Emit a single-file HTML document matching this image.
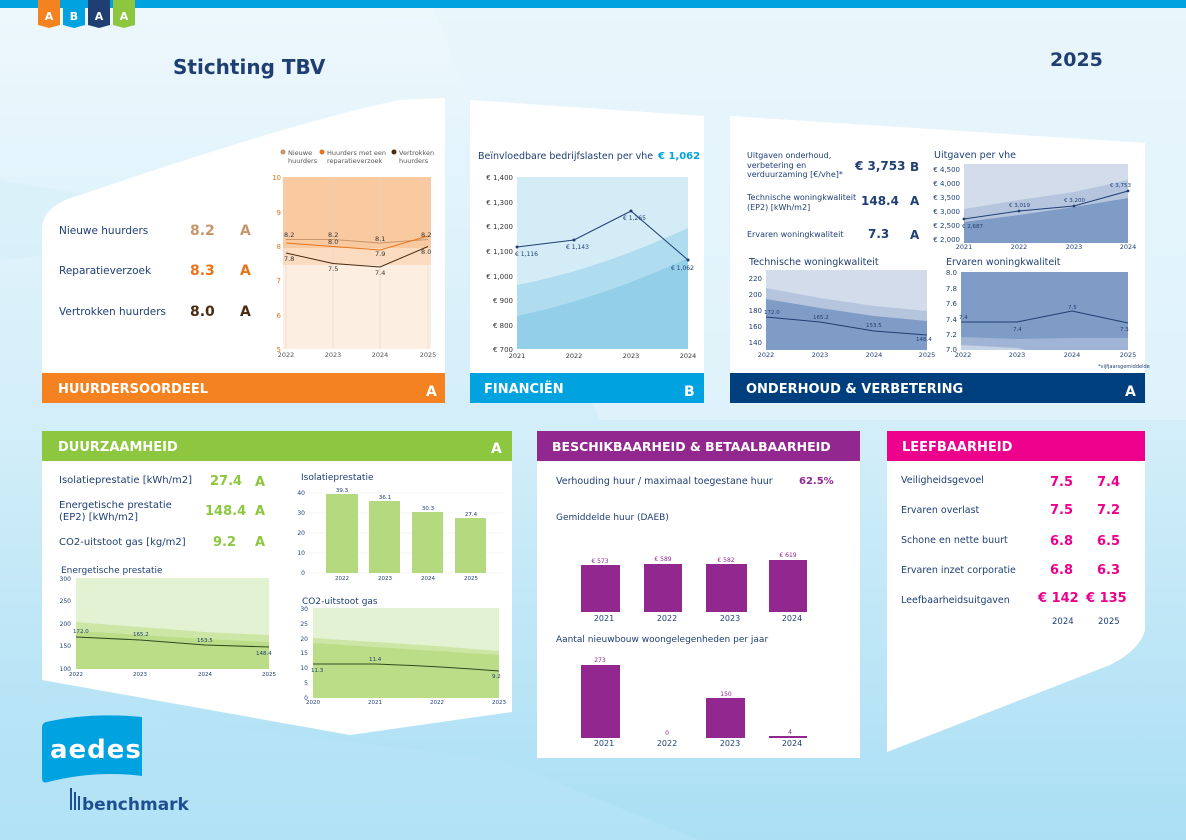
<!DOCTYPE html>
<html><head><meta charset="utf-8"><style>
html,body{margin:0;padding:0;width:1186px;height:840px;overflow:hidden}
svg{display:block}
text{font-family:"DejaVu Sans","Liberation Sans",sans-serif}
.b{font-weight:bold}
</style></head><body>
<svg width="1186" height="840" viewBox="0 0 1186 840" xmlns="http://www.w3.org/2000/svg">
<defs>
<linearGradient id="bg" x1="0" y1="0" x2="0" y2="1">
<stop offset="0" stop-color="#eef8fd"/><stop offset="0.5" stop-color="#d3eef9"/><stop offset="1" stop-color="#aadff4"/>
</linearGradient>
</defs>
<rect width="1186" height="840" fill="url(#bg)"/>
<polygon points="430,0 1186,0 1186,420 600,420" fill="#e6f5fc" opacity="0.6"/>
<polygon points="0,700 500,760 700,840 0,840" fill="#b8e4f6" opacity="0.6"/>
<polygon points="0,180 300,230 0,260" fill="#d7eff9" opacity="0.7"/>
<rect x="0" y="0" width="1186" height="8" fill="#00a3e0"/>
<g font-size="11" font-weight="bold" fill="#fff" text-anchor="middle">
<path d="M38,0h22v25l-11,3l-11,-3z" fill="#f58220"/><text x="49" y="20">A</text>
<path d="M63,0h22v25l-11,3l-11,-3z" fill="#00a3e0"/><text x="74" y="20">B</text>
<path d="M88,0h22v25l-11,3l-11,-3z" fill="#1f3f73"/><text x="99" y="20">A</text>
<path d="M113,0h22v25l-11,3l-11,-3z" fill="#8dc63f"/><text x="124" y="20">A</text>
</g>
<text x="173" y="74" font-size="20" class="b" fill="#1f3f73">Stichting TBV</text>
<text x="1050" y="66" font-size="19" class="b" fill="#1f3f73">2025</text>

<!-- Panel 1 -->
<path d="M42,403 V230 Q42,205 80,195 Q300,120 400,100 L445,98 V403 Z" fill="#fff"/>
<rect x="42" y="373" width="403" height="30" fill="#f58220"/>
<text x="58" y="393" font-size="13" class="b" fill="#fff">HUURDERSOORDEEL</text>
<text x="426" y="396" font-size="14" class="b" fill="#fff">A</text>
<g font-size="10.5" fill="#1f3f73">
<text x="59" y="234">Nieuwe huurders</text>
<text x="59" y="274">Reparatieverzoek</text>
<text x="59" y="315">Vertrokken huurders</text>
</g>
<g font-size="14" class="b">
<text x="190" y="235" fill="#c8956a">8.2</text><text x="240" y="235" fill="#c8956a">A</text>
<text x="190" y="275" fill="#e8731a">8.3</text><text x="240" y="275" fill="#e8731a">A</text>
<text x="190" y="316" fill="#4a2a10">8.0</text><text x="240" y="316" fill="#4a2a10">A</text>
</g>
<rect x="283" y="177" width="148" height="172" fill="#fdeee2"/>
<rect x="283" y="177" width="148" height="88" fill="#fbdcc0"/>
<rect x="283" y="177" width="148" height="71" fill="#f9c9a0"/>
<g stroke="#e9d6c8" stroke-width="0.6"><line x1="286" y1="177" x2="286" y2="349"/><line x1="333" y1="177" x2="333" y2="349"/><line x1="380" y1="177" x2="380" y2="349"/><line x1="428" y1="177" x2="428" y2="349"/></g>
<g font-size="7" fill="#e8731a" text-anchor="end"><text x="281" y="180">10</text><text x="281" y="215">9</text><text x="281" y="249">8</text><text x="281" y="283">7</text><text x="281" y="318">6</text><text x="281" y="352">5</text></g>
<g font-size="6.5" fill="#555" text-anchor="middle"><text x="286" y="357">2022</text><text x="333" y="357">2023</text><text x="380" y="357">2024</text><text x="428" y="357">2025</text></g>
<polyline points="286,239.5 333,239.5 380,243 428,239.5" fill="none" stroke="#c8956a" stroke-width="1"/>
<polyline points="286,243 333,246.5 380,250 428,236" fill="none" stroke="#e8731a" stroke-width="1"/>
<polyline points="286,253 333,263.5 380,267 428,246.5" fill="none" stroke="#4a2a10" stroke-width="1"/>
<g font-size="6.5" fill="#333">
<text x="284" y="237">8.2</text><text x="328" y="237">8.2</text><text x="375" y="241">8.1</text><text x="421" y="237">8.2</text>
<text x="328" y="244">8.0</text><text x="375" y="256">7.9</text><text x="421" y="254">8.0</text>
<text x="284" y="261">7.8</text><text x="328" y="271">7.5</text><text x="375" y="275">7.4</text>
</g>
<g font-size="6.5" fill="#555">
<circle cx="283" cy="152" r="2.5" fill="#c8956a"/><text x="288" y="155">Nieuwe</text><text x="288" y="163">huurders</text>
<circle cx="322" cy="152" r="2.5" fill="#e8731a"/><text x="327" y="155">Huurders met een</text><text x="327" y="163">reparatieverzoek</text>
<circle cx="394" cy="152" r="2.5" fill="#4a2a10"/><text x="399" y="155">Vertrokken</text><text x="399" y="163">huurders</text>
</g>

<!-- Panel 2 -->
<polygon points="470,100 704,116 704,403 470,403" fill="#fff"/>
<rect x="470" y="373" width="234" height="30" fill="#00a3e0"/>
<text x="484" y="393" font-size="13" class="b" fill="#fff">FINANCIËN</text>
<text x="684" y="396" font-size="14" class="b" fill="#fff">B</text>
<text x="478" y="159" font-size="9.5" fill="#1f3f73">Beïnvloedbare bedrijfslasten per vhe</text>
<text x="658" y="159" font-size="10" class="b" fill="#00a3e0">€ 1,062</text>
<rect x="517" y="177" width="171" height="172" fill="#d3ecf6"/>
<path d="M517,285 C570,275 630,255 688,228 V349 H517Z" fill="#b0dcef"/>
<path d="M517,316 C570,305 630,285 688,258 V349 H517Z" fill="#94cfe9"/>
<g font-size="7" fill="#333" text-anchor="end"><text x="513" y="180">€ 1,400</text><text x="513" y="205">€ 1,300</text><text x="513" y="229">€ 1,200</text><text x="513" y="254">€ 1,100</text><text x="513" y="279">€ 1,000</text><text x="513" y="303">€ 900</text><text x="513" y="328">€ 800</text><text x="513" y="352">€ 700</text></g>
<g font-size="6.5" fill="#333" text-anchor="middle"><text x="517" y="358">2021</text><text x="574" y="358">2022</text><text x="631" y="358">2023</text><text x="688" y="358">2024</text></g>
<polyline points="517,247 574,240 631,211 688,260" fill="none" stroke="#1f3f73" stroke-width="1"/>
<g fill="#1f3f73"><circle cx="517" cy="247" r="1.5"/><circle cx="574" cy="240" r="1.5"/><circle cx="631" cy="211" r="1.5"/><circle cx="688" cy="260" r="1.5"/></g>
<g font-size="6" fill="#1f3f73"><text x="515" y="256">€ 1,116</text><text x="566" y="249">€ 1,143</text><text x="623" y="220">€ 1,265</text><text x="671" y="270">€ 1,062</text></g>

<!-- Panel 3 -->
<polygon points="730,116 1145,143 1145,403 730,403" fill="#fff"/>
<rect x="730" y="373" width="415" height="30" fill="#003f7d"/>
<text x="746" y="393" font-size="13" class="b" fill="#fff">ONDERHOUD &amp; VERBETERING</text>
<text x="1125" y="396" font-size="14" class="b" fill="#fff">A</text>
<g font-size="8" fill="#1f3f73">
<text x="747" y="158">Uitgaven onderhoud,</text><text x="747" y="168">verbetering en</text><text x="747" y="177">verduurzaming [€/vhe]*</text>
<text x="747" y="200">Technische woningkwaliteit</text><text x="747" y="210">(EP2) [kWh/m2]</text>
<text x="747" y="237">Ervaren woningkwaliteit</text>
</g>
<g font-size="12" class="b" fill="#1f3f73">
<text x="855" y="170">€ 3,753</text><text x="910" y="171">B</text>
<text x="861" y="205">148.4</text><text x="910" y="205">A</text>
<text x="868" y="238">7.3</text><text x="910" y="239">A</text>
</g>
<text x="934" y="158" font-size="9.5" fill="#1f3f73">Uitgaven per vhe</text>
<rect x="964" y="164" width="164" height="79" fill="#d3dcea"/>
<path d="M964,209 L1019,200 L1074,192 L1128,180 V243 H964Z" fill="#b5c5de"/>
<path d="M964,222 L1019,215 L1074,207 L1128,198 V243 H964Z" fill="#7f9cc6"/>
<g font-size="7" fill="#1f3f73" text-anchor="end"><text x="960" y="172">€ 4,500</text><text x="960" y="186">€ 4,000</text><text x="960" y="200">€ 3,500</text><text x="960" y="214">€ 3,000</text><text x="960" y="228">€ 2,500</text><text x="960" y="242">€ 2,000</text></g>
<g font-size="6.5" fill="#1f3f73" text-anchor="middle"><text x="964" y="249">2021</text><text x="1019" y="249">2022</text><text x="1074" y="249">2023</text><text x="1128" y="249">2024</text></g>
<polyline points="964,219 1019,211 1074,206 1128,191" fill="none" stroke="#1f3f73" stroke-width="1"/>
<g fill="#1f3f73"><circle cx="964" cy="219" r="1.4"/><circle cx="1019" cy="211" r="1.4"/><circle cx="1074" cy="206" r="1.4"/><circle cx="1128" cy="191" r="1.4"/></g>
<g font-size="5.5" fill="#1f3f73"><text x="962" y="228">€ 2,687</text><text x="1009" y="207">€ 3,019</text><text x="1064" y="202">€ 3,200</text><text x="1110" y="187">€ 3,753</text></g>

<text x="749" y="265" font-size="9.5" fill="#1f3f73">Technische woningkwaliteit</text>
<rect x="766" y="270" width="161" height="80" fill="#d3dcea"/>
<path d="M766,288 L820,298 L874,306 L927,311 V350 H766Z" fill="#b5c5de"/>
<path d="M766,299 L820,308 L874,316 L927,321 V350 H766Z" fill="#7f9cc6"/>
<g font-size="7" fill="#1f3f73" text-anchor="end"><text x="762" y="281">220</text><text x="762" y="297">200</text><text x="762" y="313">180</text><text x="762" y="329">160</text><text x="762" y="345">140</text></g>
<g font-size="6.5" fill="#1f3f73" text-anchor="middle"><text x="766" y="357">2022</text><text x="820" y="357">2023</text><text x="874" y="357">2024</text><text x="927" y="357">2025</text></g>
<polyline points="766,317 820,322 874,331 927,335" fill="none" stroke="#1f3f73" stroke-width="1"/>
<g font-size="5.5" fill="#1f3f73"><text x="764" y="314">172.0</text><text x="813" y="319">165.2</text><text x="866" y="327">153.5</text><text x="916" y="341">148.4</text></g>

<text x="946" y="265" font-size="9.5" fill="#1f3f73">Ervaren woningkwaliteit</text>
<rect x="961" y="272" width="167" height="78" fill="#7f9cc6"/>
<path d="M961,337 L1017,339 L1072,338 L1128,338 V350 H961Z" fill="#a0b5d5"/>
<path d="M961,345 L1017,348 L1025,350 H961Z" fill="#c6d2e6"/>
<g font-size="7" fill="#1f3f73" text-anchor="end"><text x="957" y="275">8.0</text><text x="957" y="291">7.8</text><text x="957" y="306">7.6</text><text x="957" y="322">7.4</text><text x="957" y="337">7.2</text><text x="957" y="352">7.0</text></g>
<g font-size="6.5" fill="#1f3f73" text-anchor="middle"><text x="963" y="357">2022</text><text x="1017" y="357">2023</text><text x="1072" y="357">2024</text><text x="1128" y="357">2025</text></g>
<polyline points="961,322 1017,322 1072,311 1128,323" fill="none" stroke="#1f3f73" stroke-width="1"/>
<g font-size="5.5" fill="#1f3f73"><text x="959" y="319">7.4</text><text x="1013" y="331">7.4</text><text x="1068" y="309">7.5</text><text x="1120" y="331">7.3</text></g>
<text x="1098" y="368" font-size="5" fill="#1f3f73">*vijfjaarsgemiddelde</text>

<!-- Panel 4 -->
<polygon points="42,460 512,460 512,712 350,735 42,680" fill="#fff"/>
<rect x="42" y="431" width="470" height="30" fill="#8dc63f"/>
<text x="58" y="451" font-size="13" class="b" fill="#fff">DUURZAAMHEID</text>
<text x="491" y="453" font-size="14" class="b" fill="#fff">A</text>
<g font-size="10" fill="#1f3f73">
<text x="59" y="483">Isolatieprestatie [kWh/m2]</text>
<text x="59" y="508">Energetische prestatie</text><text x="59" y="520">(EP2) [kWh/m2]</text>
<text x="59" y="545">CO2-uitstoot gas [kg/m2]</text>
</g>
<g font-size="13" class="b" fill="#8dc63f">
<text x="210" y="485">27.4</text><text x="255" y="486">A</text>
<text x="205" y="515">148.4</text><text x="255" y="515">A</text>
<text x="213" y="546">9.2</text><text x="255" y="546">A</text>
</g>
<text x="301" y="480" font-size="9" fill="#1f3f73">Isolatieprestatie</text>
<g stroke="#eee" stroke-width="0.6"><line x1="306" y1="493" x2="504" y2="493"/><line x1="306" y1="513" x2="504" y2="513"/><line x1="306" y1="533" x2="504" y2="533"/><line x1="306" y1="553" x2="504" y2="553"/><line x1="306" y1="573" x2="504" y2="573"/></g>
<g font-size="6" fill="#1f3f73" text-anchor="end"><text x="305" y="495">40</text><text x="305" y="515">30</text><text x="305" y="535">20</text><text x="305" y="555">10</text><text x="305" y="575">0</text></g>
<g fill="#b5d97e"><rect x="326" y="494" width="32" height="79"/><rect x="369" y="501" width="31" height="72"/><rect x="412" y="512" width="31" height="61"/><rect x="455" y="518" width="31" height="55"/></g>
<g font-size="5.5" fill="#1f3f73" text-anchor="middle"><text x="342" y="492">39.3</text><text x="385" y="499">36.1</text><text x="428" y="510">30.3</text><text x="471" y="516">27.4</text>
<text x="342" y="580">2022</text><text x="385" y="580">2023</text><text x="428" y="580">2024</text><text x="471" y="580">2025</text></g>

<text x="61" y="573" font-size="9" fill="#1f3f73">Energetische prestatie</text>
<rect x="76" y="578" width="193" height="91" fill="#e4f2d4"/>
<path d="M76,622 L140,627 L205,632 L269,635 V669 H76Z" fill="#cce6a6"/>
<path d="M76,631 L140,635 L205,639 L269,642 V669 H76Z" fill="#bcdd88"/>
<g font-size="6" fill="#1f3f73" text-anchor="end"><text x="71" y="581">300</text><text x="71" y="603">250</text><text x="71" y="626">200</text><text x="71" y="648">150</text><text x="71" y="671">100</text></g>
<g font-size="5.5" fill="#1f3f73" text-anchor="middle"><text x="76" y="676">2022</text><text x="140" y="676">2023</text><text x="205" y="676">2024</text><text x="269" y="676">2025</text></g>
<polyline points="76,637 140,640 205,645 269,647" fill="none" stroke="#2f4a1f" stroke-width="1"/>
<g font-size="5.5" fill="#1f3f73"><text x="73" y="633">172.0</text><text x="133" y="636">165.2</text><text x="197" y="642">153.5</text><text x="256" y="655">148.4</text></g>

<text x="302" y="604" font-size="9" fill="#1f3f73">CO2-uitstoot gas</text>
<rect x="313" y="608" width="186" height="90" fill="#e4f2d4"/>
<path d="M313,638 L375,642 L437,646 L499,651 V698 H313Z" fill="#cce6a6"/>
<path d="M313,643 L375,647 L437,651 L499,655 V698 H313Z" fill="#bcdd88"/>
<g font-size="6" fill="#1f3f73" text-anchor="end"><text x="308" y="611">30</text><text x="308" y="626">25</text><text x="308" y="641">20</text><text x="308" y="655">15</text><text x="308" y="670">10</text><text x="308" y="685">5</text><text x="308" y="700">0</text></g>
<g font-size="5.5" fill="#1f3f73" text-anchor="middle"><text x="313" y="704">2020</text><text x="375" y="704">2021</text><text x="437" y="704">2022</text><text x="499" y="704">2023</text></g>
<path d="M313,664 L375,664 Q437,666 499,671" fill="none" stroke="#2f4a1f" stroke-width="1"/>
<g font-size="5.5" fill="#1f3f73"><text x="311" y="672">11.3</text><text x="369" y="661">11.4</text><text x="492" y="678">9.2</text></g>

<!-- Panel 5 -->
<rect x="537" y="431" width="323" height="327" fill="#fff"/>
<rect x="537" y="431" width="323" height="30" fill="#92278f"/>
<text x="552" y="451" font-size="12.5" class="b" fill="#fff">BESCHIKBAARHEID &amp; BETAALBAARHEID</text>
<text x="556" y="484" font-size="9.5" fill="#1f3f73">Verhouding huur / maximaal toegestane huur</text>
<text x="799" y="484" font-size="10" class="b" fill="#92278f">62.5%</text>
<text x="556" y="520" font-size="9" fill="#1f3f73">Gemiddelde huur (DAEB)</text>
<g fill="#92278f"><rect x="581" y="565" width="39" height="47"/><rect x="644" y="564" width="38" height="48"/><rect x="706" y="564" width="41" height="48"/><rect x="769" y="560" width="38" height="52"/></g>
<g font-size="6" fill="#92278f" text-anchor="middle"><text x="600" y="563">€ 573</text><text x="663" y="561">€ 589</text><text x="726" y="562">€ 582</text><text x="788" y="557">€ 619</text></g>
<g font-size="8" fill="#1f3f73" text-anchor="middle"><text x="604" y="621">2021</text><text x="667" y="621">2022</text><text x="730" y="621">2023</text><text x="792" y="621">2024</text></g>
<text x="556" y="642" font-size="9" fill="#1f3f73">Aantal nieuwbouw woongelegenheden per jaar</text>
<g fill="#92278f"><rect x="581" y="665" width="39" height="73"/><rect x="706" y="698" width="39" height="40"/><rect x="769" y="736" width="38" height="2"/></g>
<g font-size="6" fill="#92278f" text-anchor="middle"><text x="600" y="662">273</text><text x="667" y="735">0</text><text x="726" y="696">150</text><text x="790" y="734">4</text></g>
<g font-size="8" fill="#1f3f73" text-anchor="middle"><text x="604" y="746">2021</text><text x="667" y="746">2022</text><text x="730" y="746">2023</text><text x="792" y="746">2024</text></g>

<!-- Panel 6 -->
<path d="M887,431 H1145 V630 Q1140,650 1110,665 L887,752 Z" fill="#fff"/>
<rect x="887" y="431" width="258" height="30" fill="#ec008c"/>
<text x="902" y="451" font-size="13" class="b" fill="#fff">LEEFBAARHEID</text>
<g font-size="9.5" fill="#1f3f73">
<text x="901" y="483">Veiligheidsgevoel</text><text x="901" y="513">Ervaren overlast</text><text x="901" y="543">Schone en nette buurt</text><text x="901" y="573">Ervaren inzet corporatie</text><text x="901" y="603">Leefbaarheidsuitgaven</text>
</g>
<g font-size="13" class="b" fill="#ec008c">
<text x="1050" y="486">7.5</text><text x="1097" y="486">7.4</text>
<text x="1050" y="514">7.5</text><text x="1097" y="514">7.2</text>
<text x="1050" y="545">6.8</text><text x="1097" y="545">6.5</text>
<text x="1050" y="574">6.8</text><text x="1097" y="574">6.3</text>
<text x="1038" y="602">€ 142</text><text x="1086" y="602">€ 135</text>
</g>
<g font-size="8.5" fill="#1f3f73"><text x="1052" y="624">2024</text><text x="1098" y="624">2025</text></g>

<!-- logo -->
<path d="M46,722 Q90,712 142,717 V776 Q95,770 48,782 Q42,784 42,778 V728 Q42,723 46,722Z" fill="#00a3e0"/>
<text x="50" y="758" font-size="26" class="b" fill="#fff" font-family="Liberation Sans,sans-serif" letter-spacing="1">aedes</text>
<g fill="#1d4f91"><rect x="70" y="788" width="2" height="22"/><rect x="74" y="792" width="2" height="18"/><rect x="78" y="796" width="2" height="14"/></g>
<text x="82" y="810" font-size="17" class="b" fill="#1d4f91" font-family="Liberation Sans,sans-serif">benchmark</text>
</svg>
</body></html>
